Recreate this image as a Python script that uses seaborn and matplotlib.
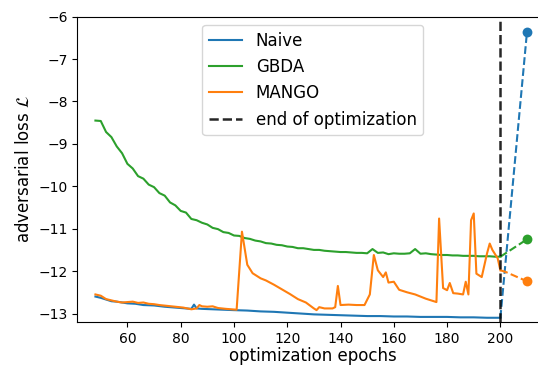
import numpy as np
import pandas as pd
import matplotlib
matplotlib.use("Agg")
import matplotlib.pyplot as plt
import seaborn as sns

# --- data ---
naive_epochs = [48, 50, 52, 54, 56, 58, 60, 63, 66, 70, 74, 78, 82, 84, 85, 86, 88, 92, 96,
                100, 105, 110, 115, 120, 125, 130, 135, 140, 145, 150, 155, 160, 165, 170,
                175, 180, 185, 190, 195, 200]
naive_loss = [-12.60, -12.63, -12.67, -12.71, -12.72, -12.74, -12.76, -12.77, -12.80, -12.81,
              -12.84, -12.86, -12.88, -12.89, -12.79, -12.88, -12.89, -12.90, -12.91,
              -12.92, -12.93, -12.95, -12.96, -12.98, -13.00, -13.02, -13.03, -13.04, -13.05,
              -13.06, -13.06, -13.07, -13.07, -13.08, -13.08, -13.08, -13.09, -13.09, -13.10,
              -13.10]

gbda_epochs = list(range(48, 201, 2))
gbda_loss = [-8.45, -8.46, -8.72, -8.84, -9.06, -9.22, -9.47, -9.58, -9.76, -9.82, -9.96,
             -10.02, -10.16, -10.22, -10.38, -10.45, -10.58, -10.62, -10.77, -10.80, -10.86,
             -10.90, -10.98, -11.01, -11.08, -11.10, -11.16, -11.17, -11.22, -11.24, -11.28,
             -11.30, -11.34, -11.35, -11.38, -11.39, -11.42, -11.43, -11.46, -11.46, -11.48,
             -11.50, -11.50, -11.52, -11.53, -11.54, -11.55, -11.55, -11.56, -11.57, -11.57,
             -11.58, -11.48, -11.57, -11.56, -11.60, -11.58, -11.59, -11.59, -11.58, -11.48,
             -11.59, -11.58, -11.60, -11.61, -11.62, -11.62, -11.63, -11.63, -11.64, -11.64,
             -11.64, -11.65, -11.65, -11.65, -11.66, -11.66]

mango_epochs = [48, 50, 52, 54, 56, 58, 60, 62, 64, 66, 68, 70, 72, 75, 78, 81, 84, 86, 87, 88,
                90, 92, 94, 97, 101, 103, 105, 107, 110, 112, 115, 118, 121, 124, 127, 130,
                131, 132, 134, 137, 138, 139, 140, 143, 146, 149, 151, 152.5, 154, 156, 157,
                158, 160, 162, 165, 168, 172, 176, 177, 178.5, 180, 181, 182.3, 184, 186, 187,
                188, 189, 190, 191, 193, 195, 196, 197, 199, 200]
mango_loss = [-12.55, -12.58, -12.66, -12.69, -12.72, -12.74, -12.73, -12.72, -12.75, -12.74,
              -12.77, -12.78, -12.80, -12.82, -12.84, -12.86, -12.90, -12.88, -12.80, -12.83,
              -12.84, -12.83, -12.87, -12.89, -12.91, -11.07, -11.85, -12.05, -12.17, -12.22,
              -12.32, -12.43, -12.54, -12.66, -12.74, -12.88, -12.92, -12.85, -12.88, -12.88,
              -12.85, -12.35, -12.80, -12.79, -12.80, -12.80, -12.55, -11.62, -11.98, -12.14,
              -12.03, -12.27, -12.25, -12.44, -12.50, -12.55, -12.65, -12.73, -10.76, -12.40,
              -12.45, -12.28, -12.52, -12.53, -12.55, -12.25, -12.55, -10.80, -10.64, -12.06,
              -12.14, -11.58, -11.35, -11.50, -11.70, -11.98]

# values after the end of optimization (dashed)
ext_epochs = [200, 210]
naive_ext = [-13.10, -6.35]
gbda_ext = [-11.66, -11.25]
mango_ext_epochs = [200, 202, 210]
mango_ext = [-11.98, -12.02, -12.24]

end_epoch = 200
series_names = ["Naive", "GBDA", "MANGO"]
colors = ["tab:blue", "tab:green", "tab:orange"]

fig = plt.figure(figsize=(5.38, 3.67), dpi=100)
ax = fig.add_axes([0.1437, 0.1226, 0.8755, 0.832])

curves = [(naive_epochs, naive_loss), (gbda_epochs, gbda_loss), (mango_epochs, mango_loss)]
exts = [(ext_epochs, naive_ext), (ext_epochs, gbda_ext), (mango_ext_epochs, mango_ext)]

handles = []
for name, c, (xs, ys), (ex, ey) in zip(series_names, colors, curves, exts):
    sns.lineplot(x=xs, y=ys, ax=ax, color=c, linewidth=1.5, sort=False)
    handles.append(ax.lines[-1])
    handles[-1].set_label(name)
    sns.lineplot(x=ex, y=ey, ax=ax, color=c, linewidth=1.5, linestyle="--", sort=False)
    sns.scatterplot(x=[ex[-1]], y=[ey[-1]], ax=ax, color=c, s=50, linewidth=0, zorder=3)

vl = ax.axvline(end_epoch, color="k", linestyle="--", linewidth=1.8, alpha=0.85,
                label="end of optimization")
handles.append(vl)

ax.set_xlim(41.2, 218)
ax.set_ylim(-13.2, -6.0)
ax.set_xticks([60, 80, 100, 120, 140, 160, 180, 200])
ax.tick_params(labelsize=10)
# the reference is cropped on the right, so no right spine is visible
ax.spines["right"].set_visible(False)
ax.set_xlabel("optimization epochs", fontsize=12, labelpad=1)
ax.set_ylabel(r"adversarial loss $\mathcal{L}$", fontsize=12)
ax.legend(handles=handles, loc="upper center", fontsize=12)

fig.savefig("out.png", dpi=100)
